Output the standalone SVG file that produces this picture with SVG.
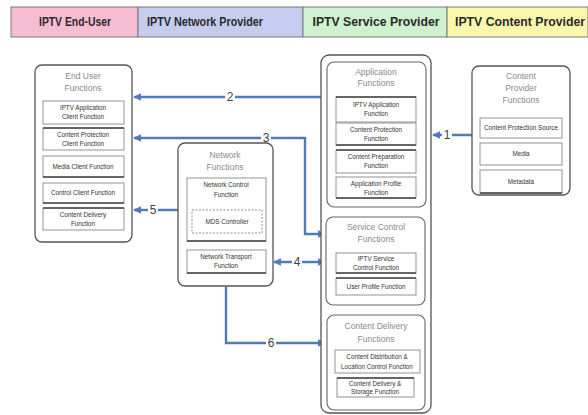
<svg xmlns="http://www.w3.org/2000/svg" width="588" height="415" viewBox="0 0 588 415">
<style>
.hdr{stroke:#7a7a7a;stroke-width:1}
.htxt{font-family:"Liberation Sans",Arial,sans-serif;font-size:12px;font-weight:bold;fill:#2a2a2a;text-anchor:middle}
.outer{fill:#fff;stroke:#555;stroke-width:1.3}
.grp{fill:#fff;stroke:#666;stroke-width:1.1}
.ibox{fill:#fff;stroke:#888;stroke-width:0.9}
.ibar{stroke:#444;stroke-width:1.4}
.ttl{font-family:"Liberation Sans",Arial,sans-serif;font-size:8.5px;fill:#8a8a8a;text-anchor:middle}
.itxt{font-family:"Liberation Sans",Arial,sans-serif;font-size:6.3px;fill:#333;text-anchor:middle}
.conn{fill:none;stroke:#4f7bbd;stroke-width:2.4}
.lnk{stroke:#111;stroke-width:3}
.num{font-family:"Liberation Sans",Arial,sans-serif;font-size:12px;fill:#444;text-anchor:middle}
.nbg{fill:#fff}
</style>
<defs>
<marker id="ah" viewBox="0 0 10 10" refX="9" refY="5" markerWidth="3.2" markerHeight="3.2" orient="auto-start-reverse">
<path d="M0,0 L10,5 L0,10 z" fill="#4f7bbd"/>
</marker>
</defs>

<g id="header">
<rect class="hdr" x="11" y="7" width="127" height="30" fill="#f5bcd2"/>
<rect class="hdr" x="138" y="7" width="165" height="30" fill="#c5ccf0"/>
<rect class="hdr" x="303" y="7" width="144" height="30" fill="#d0f1cf"/>
<rect class="hdr" x="447" y="7" width="141" height="30" fill="#fbf7ad"/>
<text class="htxt" x="75" y="26" textLength="72" lengthAdjust="spacingAndGlyphs">IPTV End-User</text>
<text class="htxt" x="205" y="26" textLength="116" lengthAdjust="spacingAndGlyphs">IPTV Network Provider</text>
<text class="htxt" x="376" y="26" textLength="127" lengthAdjust="spacingAndGlyphs">IPTV Service Provider</text>
<text class="htxt" x="520" y="26" textLength="130" lengthAdjust="spacingAndGlyphs">IPTV Content Provider</text>
</g>

<g id="connectors">
<path class="conn" d="M472,135 H433" marker-end="url(#ah)"/>
<path class="conn" d="M327,97 H134" marker-end="url(#ah)"/>
<path class="conn" d="M134,138 H305 V234 H325" marker-start="url(#ah)" marker-end="url(#ah)"/>
<path class="conn" d="M274,262 H325" marker-start="url(#ah)" marker-end="url(#ah)"/>
<path class="conn" d="M178,210 H134" marker-end="url(#ah)"/>
<path class="conn" d="M226,287 V343 H325" marker-end="url(#ah)"/>
<line class="lnk" x1="376" y1="207" x2="376" y2="217"/>
<line class="lnk" x1="376" y1="305" x2="376" y2="315"/>
<rect class="nbg" x="442" y="128" width="10" height="14"/>
<text class="num" x="447" y="139">1</text>
<rect class="nbg" x="225" y="90" width="10" height="14"/>
<text class="num" x="230" y="101">2</text>
<rect class="nbg" x="261" y="131" width="10" height="14"/>
<text class="num" x="266" y="142">3</text>
<rect class="nbg" x="292" y="255" width="10" height="14"/>
<text class="num" x="297" y="266">4</text>
<rect class="nbg" x="148" y="203" width="10" height="14"/>
<text class="num" x="153" y="214">5</text>
<rect class="nbg" x="266" y="336" width="10" height="14"/>
<text class="num" x="271" y="347">6</text>
</g>

<g id="end-user-functions">
<rect class="outer" x="35" y="65" width="97" height="177" rx="7"/>
<text class="ttl" x="83" y="79">End User</text>
<text class="ttl" x="83" y="91">Functions</text>
<rect class="ibox" x="43" y="101" width="81" height="23"/>
<text class="itxt" x="83" y="110">IPTV Application</text>
<text class="itxt" x="83" y="119">Client Function</text>
<rect class="ibox" x="43" y="128" width="81" height="22"/>
<line class="ibar" x1="43" y1="128" x2="124" y2="128"/>
<text class="itxt" x="83" y="137">Content Protection</text>
<text class="itxt" x="83" y="146">Client Function</text>
<rect class="ibox" x="43" y="156" width="81" height="21"/>
<line class="ibar" x1="43" y1="177" x2="124" y2="177"/>
<text class="itxt" x="83" y="169">Media Client Function</text>
<rect class="ibox" x="43" y="183" width="81" height="20"/>
<line class="ibar" x1="43" y1="203" x2="124" y2="203"/>
<text class="itxt" x="83" y="195">Control Client Function</text>
<rect class="ibox" x="43" y="208" width="81" height="22"/>
<line class="ibar" x1="43" y1="208" x2="124" y2="208"/>
<text class="itxt" x="83" y="217">Content Delivery</text>
<text class="itxt" x="83" y="226">Function</text>
</g>

<g id="network-functions">
<rect class="outer" x="178" y="143" width="95" height="143" rx="7"/>
<text class="ttl" x="225" y="158">Network</text>
<text class="ttl" x="225" y="170">Functions</text>
<rect class="ibox" x="187" y="178" width="79" height="63"/>
<line class="ibar" x1="187" y1="241" x2="266" y2="241"/>
<text class="itxt" x="226" y="187">Network Control</text>
<text class="itxt" x="226" y="197">Function</text>
<rect class="ibox" x="192" y="210" width="70" height="23" stroke-dasharray="2,1.5"/>
<text class="itxt" x="227" y="224">MDS Controller</text>
<rect class="ibox" x="187" y="250" width="79" height="23"/>
<line class="ibar" x1="187" y1="273" x2="266" y2="273"/>
<text class="itxt" x="226" y="259">Network Transport</text>
<text class="itxt" x="226" y="268">Function</text>
</g>

<g id="service-provider">
<rect class="outer" x="321" y="55" width="110" height="358" rx="8"/>
</g>

<g id="application-functions">
<rect class="grp" x="327" y="62" width="99" height="145" rx="7"/>
<text class="ttl" x="376" y="75">Application</text>
<text class="ttl" x="376" y="86">Functions</text>
<rect class="ibox" x="336" y="97" width="80" height="25"/>
<line class="ibar" x1="336" y1="97" x2="416" y2="97"/>
<text class="itxt" x="376" y="107">IPTV Application</text>
<text class="itxt" x="376" y="116">Function</text>
<rect class="ibox" x="336" y="123" width="80" height="22"/>
<line class="ibar" x1="336" y1="145" x2="416" y2="145"/>
<text class="itxt" x="376" y="132">Content Protection</text>
<text class="itxt" x="376" y="141">Function</text>
<rect class="ibox" x="336" y="150" width="80" height="23"/>
<line class="ibar" x1="336" y1="150" x2="416" y2="150"/>
<text class="itxt" x="376" y="159">Content Preparation</text>
<text class="itxt" x="376" y="168">Function</text>
<rect class="ibox" x="336" y="177" width="80" height="21"/>
<line class="ibar" x1="336" y1="198" x2="416" y2="198"/>
<text class="itxt" x="376" y="186">Application Profile</text>
<text class="itxt" x="376" y="195">Function</text>
</g>

<g id="service-control-functions">
<rect class="grp" x="326" y="217" width="99" height="88" rx="7"/>
<text class="ttl" x="376" y="230">Service Control</text>
<text class="ttl" x="376" y="242">Functions</text>
<rect class="ibox" x="336" y="253" width="80" height="20"/>
<line class="ibar" x1="336" y1="273" x2="416" y2="273"/>
<text class="itxt" x="376" y="261">IPTV Service</text>
<text class="itxt" x="376" y="270">Control Function</text>
<rect class="ibox" x="336" y="278" width="80" height="17"/>
<line class="ibar" x1="336" y1="278" x2="416" y2="278"/>
<text class="itxt" x="376" y="289">User Profile Function</text>
</g>

<g id="content-delivery-functions">
<rect class="grp" x="327" y="315" width="98" height="95" rx="7"/>
<text class="ttl" x="376" y="329">Content Delivery</text>
<text class="ttl" x="376" y="342">Functions</text>
<rect class="ibox" x="335" y="350" width="85" height="23"/>
<text class="itxt" x="377" y="359">Content Distribution &amp;</text>
<text class="itxt" x="377" y="369">Location Control Function</text>
<rect class="ibox" x="337" y="378" width="77" height="19"/>
<line class="ibar" x1="337" y1="378" x2="414" y2="378"/>
<text class="itxt" x="375" y="386">Content Delivery &amp;</text>
<text class="itxt" x="375" y="394">Storage Function</text>
</g>

<g id="content-provider-functions">
<rect class="outer" x="472" y="66" width="98" height="129" rx="7"/>
<text class="ttl" x="521" y="79">Content</text>
<text class="ttl" x="521" y="91">Provider</text>
<text class="ttl" x="521" y="103">Functions</text>
<rect class="ibox" x="480" y="118" width="82" height="20"/>
<text class="itxt" x="521" y="130">Content Protection Source</text>
<rect class="ibox" x="480" y="143" width="82" height="22"/>
<text class="itxt" x="521" y="156">Media</text>
<rect class="ibox" x="480" y="170" width="82" height="23"/>
<line class="ibar" x1="480" y1="193" x2="562" y2="193"/>
<text class="itxt" x="521" y="184">Metadata</text>
</g>
</svg>
